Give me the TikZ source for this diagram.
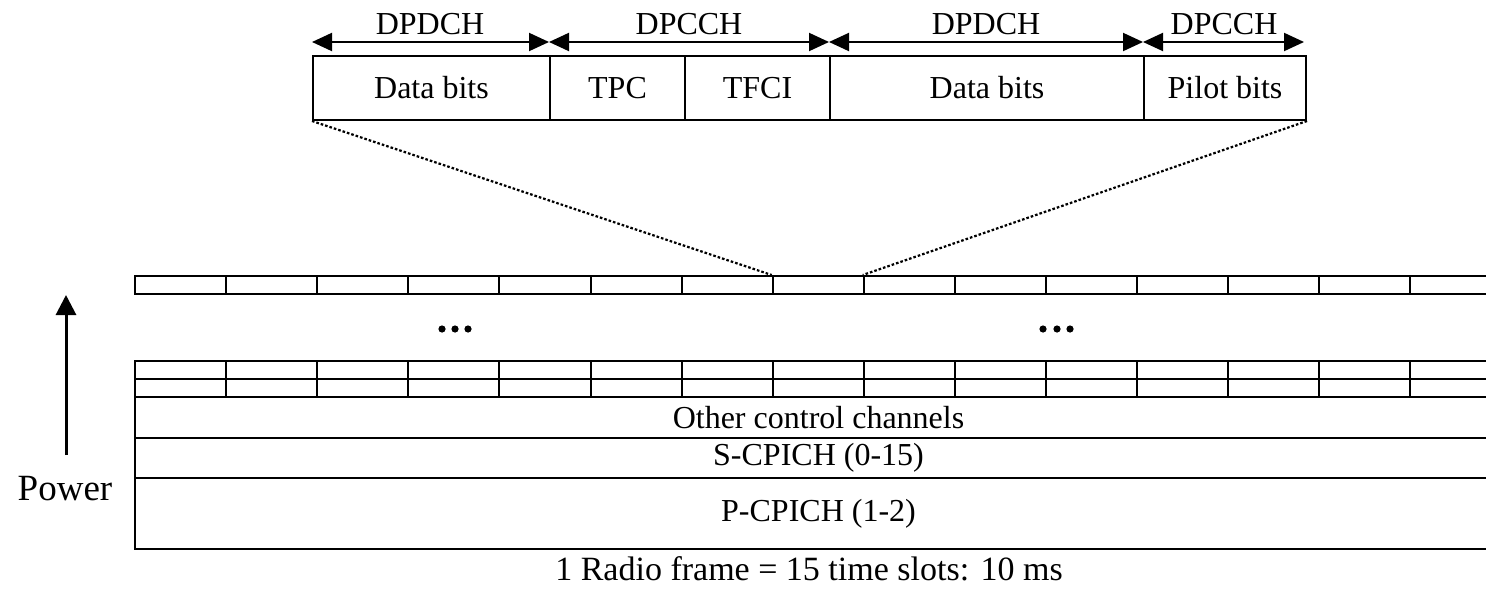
\documentclass[tikz,border=0pt]{standalone}
\usepackage{fontspec}
\setmainfont{Liberation Serif}
\usetikzlibrary{arrows.meta}

\tikzset{
  cell/.style={draw, line width=1pt, rectangle, inner sep=0pt, anchor=north west,
               font=\fontsize{16}{19}\selectfont},
  slot/.style={draw, line width=1pt, rectangle, inner sep=0pt, anchor=north west,
               minimum width=45.55pt, minimum height=9pt},
  band/.style={draw, line width=1pt, rectangle, inner sep=0pt, anchor=north west,
               minimum width=683.5pt, font=\fontsize{16}{19}\selectfont},
  span/.style={line width=1pt, {Triangle[length=10pt,width=9pt]}-{Triangle[length=10pt,width=9pt]}},
  spanlabel/.style={anchor=base, inner sep=0pt, font=\fontsize{16}{19}\selectfont},
  zoomline/.style={line width=1.1pt, dash pattern=on 1.3pt off 1pt},
}

\begin{document}
\begin{tikzpicture}[x=0.5pt,y=-0.5pt]
\useasboundingbox (0,0) rectangle (1486,594);

% ---- expanded slot: field layout ----
\node[cell, minimum width=118.5pt, minimum height=32pt] (d1) at (312,55) {Data bits};
\node[cell, minimum width=67.5pt,  minimum height=32pt] (tpc) at (549,55) {TPC};
\node[cell, minimum width=72.5pt,  minimum height=32pt] (tfci) at (684,55) {TFCI};
\node[cell, minimum width=157pt,   minimum height=32pt] (d2) at (829,55) {Data bits};
\node[cell, minimum width=81pt,    minimum height=32pt] (pil) at (1143,55) {Pilot bits};

% channel spans above the fields
\coordinate (a0) at (312,42);
\coordinate (a1) at (549,42);
\coordinate (a2) at (829,42);
\coordinate (a3) at (1143,42);
\coordinate (a4) at (1304,42);
\draw[span] (a0) -- (a1);
\draw[span] (a1) -- (a2);
\draw[span] (a2) -- (a3);
\draw[span] (a3) -- (a4);
\node[spanlabel] (l1) at (430,34) {DPDCH};
\node[spanlabel] (l2) at (689,34) {DPCCH};
\node[spanlabel] (l3) at (986,34) {DPDCH};
\node[spanlabel] (l4) at (1224,34) {DPCCH};

% ---- radio frame: dedicated channel rows (15 slots) ----
\foreach \i in {1,...,15} {
  \pgfmathsetmacro{\xx}{134+91.1*(\i-1)}
  \node[slot] (t\i) at (\xx,275) {};
  \node[slot] (m\i) at (\xx,360) {};
  \node[slot] (n\i) at (\xx,378) {};
}

% zoom lines from the field layout down to slot 8
\draw[zoomline] (d1.south west) -- (t8.north west);
\draw[zoomline] (pil.south east) -- (t9.north west);

% ellipses between the rows
\foreach \x in {442,455,468,1043,1057,1070}
  \fill (\x,329) circle[radius=3.6];

% ---- common channels ----
\node[band, minimum height=20.5pt] (occ) at (134,396) {Other control channels};
\node[band, minimum height=20pt]   (scp) at (134,437) {S-CPICH (0-15)};
\node[band, minimum height=35.5pt] (pcp) at (134,477) {P-CPICH (1-2)};

% ---- power axis ----
\coordinate (pw0) at (66,455);
\coordinate (pw1) at (66,295);
\draw[line width=1.5pt, -{Triangle[length=10pt,width=10pt]}] (pw0) -- (pw1);
\node[anchor=base, inner sep=0pt, font=\fontsize{18.5}{22}\selectfont] (pow) at (65,500) {Power};

% ---- frame caption ----
\node[anchor=base, inner sep=0pt, font=\fontsize{17}{20}\selectfont] (cap) at (809,580)
  {1 Radio frame = 15 time slots: 10 ms};
\end{tikzpicture}
\end{document}
